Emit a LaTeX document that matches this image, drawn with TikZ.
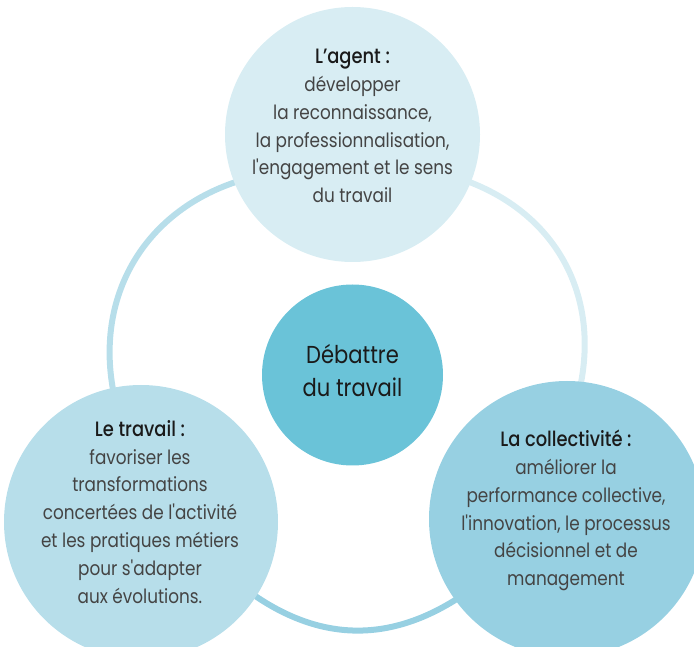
\documentclass[tikz,border=0pt]{standalone}
\usepackage{fontspec}
\setmainfont{Poppins}[BoldFont={Poppins Medium}, FakeStretch=0.86, Ligatures=TeXOff]
\usetikzlibrary{backgrounds}
\definecolor{agentfill}{HTML}{D8EDF3}
\definecolor{travailfill}{HTML}{B7DEEA}
\definecolor{collectiffill}{HTML}{97D0E2}
\definecolor{centrefill}{HTML}{6AC3D8}
\definecolor{bodytext}{HTML}{444444}
\definecolor{headtext}{HTML}{1A1A1A}

\begin{document}
\begin{tikzpicture}[x=1pt, y=1pt,
  bubble/.style={shape=circle, inner sep=0pt},
  ringarc/.style={line width=6pt, shorten <=-10pt, shorten >=-10pt},
  bubtext/.style={align=center, anchor=north, inner sep=0pt, text=bodytext, font=\fontsize{19.6}{27.8}\selectfont},
  head/.style={text=headtext, font=\fontsize{20.8}{27.8}\selectfont\bfseries}]
\useasboundingbox (0,0) rectangle (694,646);
\node[bubble, fill=agentfill, minimum size=255pt] (agent) at (352.5,511.5) {};
\node[bubble, fill=travailfill, minimum size=274pt] (travail) at (141,124) {};
\node[bubble, fill=collectiffill, minimum size=276pt] (collectif) at (567,127) {};
\node[bubble, fill=centrefill, minimum size=181pt] (centre) at (352.5,271) {};
\begin{scope}[on background layer]
\path [ringarc, draw=travailfill] (agent.202) edge[bend right=43] (travail.102);
\path [ringarc, draw=agentfill] (agent.338) edge[bend left=42] (collectif.84);
\path [ringarc, draw=collectiffill] (travail.327) edge[bend right=35] (collectif.216);
\end{scope}
\node[bubtext] (agenttxt) at (352.5,597) {{\color{headtext}\fontsize{20.8}{27.8}\selectfont\bfseries L’agent :}\\ développer\\ la reconnaissance,\\ la professionnalisation,\\ l'engagement et le sens\\ du travail};
\node[bubtext] (travailtxt) at (140,226) {{\color{headtext}\fontsize{20.8}{27.8}\selectfont\bfseries Le travail :}\\ favoriser les\\ transformations\\ concertées de l'activité\\ et les pratiques métiers\\ pour s'adapter\\ aux évolutions.};
\node[bubtext] (collectiftxt) at (566,216) {{\color{headtext}\fontsize{20.8}{27.8}\selectfont\bfseries La collectivité :}\\ améliorer la\\ performance collective,\\ l'innovation, le processus\\ décisionnel et de\\ management};
\node[bubtext, text=headtext, font=\fontsize{24.5}{33}\selectfont] (centretxt) at (352.5,302) {Débattre\\ du travail};
\end{tikzpicture}
\end{document}
